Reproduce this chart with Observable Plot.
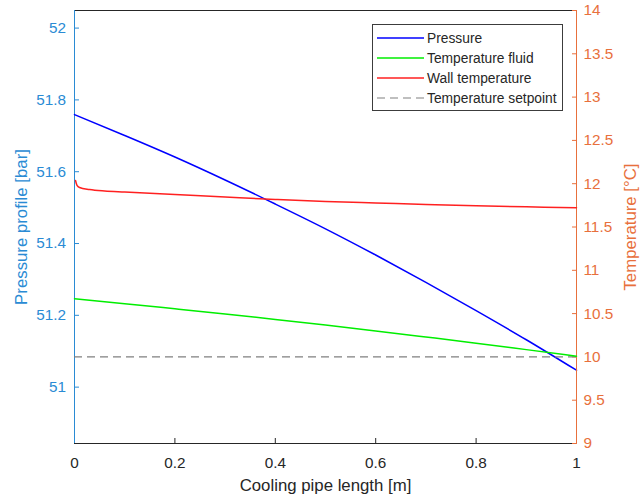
<!DOCTYPE html>
<html>
<head>
<meta charset="utf-8">
<script src="https://cdn.jsdelivr.net/npm/d3@7"></script>
<script src="https://cdn.jsdelivr.net/npm/@observablehq/plot@0.6"></script>
<style>
  html, body { margin: 0; padding: 0; background: white; }
  #wrap { position: relative; width: 641px; height: 499px; font-family: 'Liberation Sans', Arial, Helvetica, sans-serif; }
  #wrap svg { position: absolute; left: 0; top: 0; }
  #legend { position: absolute; left: 372px; top: 24px; width: 191px; height: 87px; border: 1px solid #3c3c3c; background: white; box-sizing: border-box; }
  .item { position: absolute; left: 0; height: 20px; display: flex; align-items: center; font-size: 13.8px; color: #262626; white-space: nowrap; }
  .item svg { position: static !important; margin-left: 4px; margin-right: 3px; }
</style>
</head>
<body>
<div id="wrap"></div>
<script>
// ---- data ----
const pipeX      = [0, 0.1, 0.2, 0.3, 0.4, 0.5, 0.6, 0.7, 0.8, 0.9, 1.0];
const pressure   = [51.759, 51.701, 51.641, 51.577, 51.510, 51.441, 51.368, 51.292, 51.213, 51.132, 51.047];
const fluidTemp  = [10.671, 10.615, 10.556, 10.496, 10.433, 10.368, 10.300, 10.230, 10.159, 10.084, 10.008];
const wallX      = [0.002, 0.005, 0.01, 0.03, 0.06, 0.1, 0.2, 0.3, 0.4, 0.5, 0.6, 0.7, 0.8, 0.9, 1.0];
const wallTemp   = [12.037, 11.980, 11.956, 11.933, 11.916, 11.904, 11.875, 11.846, 11.818, 11.794, 11.777, 11.760, 11.745, 11.733, 11.722];
const setpoint   = 10;

const xTicks     = [0, 0.2, 0.4, 0.6, 0.8, 1];
const pTicks     = [51, 51.2, 51.4, 51.6, 51.8, 52];
const tTicks     = [9, 9.5, 10, 10.5, 11, 11.5, 12, 12.5, 13, 13.5, 14];
const pDomain    = [50.843, 52.049];
const tDomain    = [9, 14];

const seriesNames = ["Pressure", "Temperature fluid", "Wall temperature", "Temperature setpoint"];
const seriesColors = ["#0000ff", "#00ee00", "#ff2020", "#808080"];

const xLabel = "Cooling pipe length [m]";
const yLeftLabel = "Pressure profile [bar]";
const yRightLabel = "Temperature [°C]";

const leftColor = "#2a8bd4";
const rightColor = "#e8703c";
const axisColor = "#262626";

// ---- tables ----
const pressureRows = pipeX.map((x, i) => ({x, v: pressure[i]}));
const fluidRows = pipeX.map((x, i) => ({x, v: fluidTemp[i]}));
const wallRows = wallX.map((x, i) => ({x, v: wallTemp[i]}));

const fmt = d => String(d);
const common = {
  width: 641, height: 499,
  marginLeft: 74, marginRight: 65, marginTop: 10, marginBottom: 56,
  x: {domain: [0, 1]}
};
const font = "'Liberation Sans', Arial, Helvetica, sans-serif";

const left = Plot.plot({
  ...common,
  y: {domain: pDomain},
  style: {fontFamily: font, fontSize: "15.3px", background: "white", overflow: "visible"},
  marks: [
    Plot.frame({stroke: axisColor}),
    Plot.axisX({ticks: xTicks, tickFormat: fmt, tickSize: -5, tickPadding: 19, color: axisColor, label: null}),
    Plot.axisY({ticks: pTicks, tickFormat: fmt, tickSize: -5, tickPadding: 13.5, color: leftColor, label: null}),
    Plot.ruleX([0], {stroke: leftColor}),
    Plot.line(pressureRows, {x: "x", y: "v", stroke: seriesColors[0], strokeWidth: 1.5, curve: "monotone-x"}),
    Plot.text([xLabel], {text: d => d, frameAnchor: "bottom", dy: 47.5, fontSize: 16.8, fill: axisColor}),
    Plot.text([yLeftLabel], {text: d => d, frameAnchor: "left", textAnchor: "middle", rotate: -90, dx: -53, fontSize: 16.8, fill: leftColor})
  ]
});

const right = Plot.plot({
  ...common,
  x: {domain: [0, 1], axis: null},
  y: {domain: tDomain},
  style: {fontFamily: font, fontSize: "15.3px", background: "transparent", overflow: "visible"},
  marks: [
    Plot.axisY({anchor: "right", ticks: tTicks, tickFormat: fmt, tickSize: -5, tickPadding: 12, color: rightColor, label: null}),
    Plot.ruleX([1], {stroke: rightColor}),
    Plot.ruleY([setpoint], {stroke: seriesColors[3], strokeWidth: 1.2, strokeDasharray: "8,5"}),
    Plot.line(fluidRows, {x: "x", y: "v", stroke: seriesColors[1], strokeWidth: 1.5, curve: "monotone-x"}),
    Plot.line(wallRows, {x: "x", y: "v", stroke: seriesColors[2], strokeWidth: 1.5, curve: "monotone-x"}),
    Plot.text([yRightLabel], {text: d => d, frameAnchor: "right", textAnchor: "middle", rotate: -90, dx: 54, fontSize: 16.8, fill: rightColor})
  ]
});

const wrap = document.getElementById("wrap");
wrap.appendChild(left);
wrap.appendChild(right);

// ---- legend ----
const legend = document.createElement("div");
legend.id = "legend";
seriesNames.forEach((name, i) => {
  const item = document.createElement("div");
  item.className = "item";
  item.style.top = (3 + i * 20) + "px";
  const dash = i === 3 ? ' stroke-dasharray="8,5"' : "";
  item.innerHTML = `<svg width="47" height="4"><line x1="0" y1="2" x2="47" y2="2" stroke="${seriesColors[i]}" stroke-width="${i === 3 ? 1.2 : 1.5}"${dash}/></svg><span>${name}</span>`;
  legend.appendChild(item);
});
wrap.appendChild(legend);
</script>
</body>
</html>
